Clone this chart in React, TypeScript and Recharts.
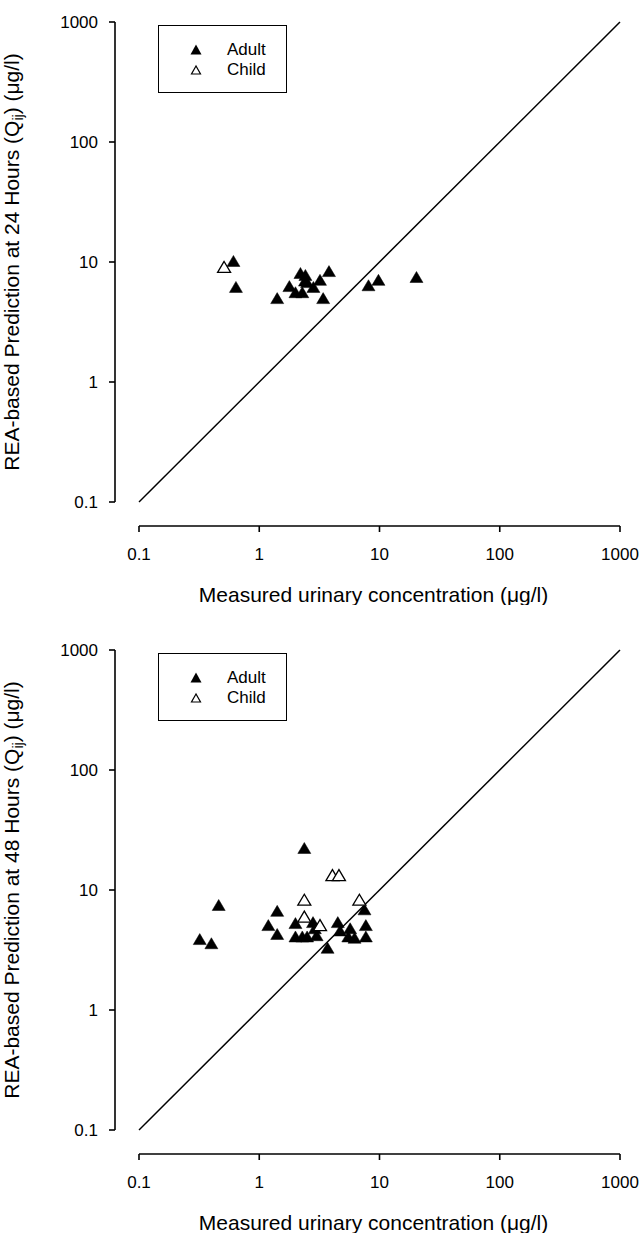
import React from 'react';
import { ScatterChart, Scatter, XAxis, YAxis, ReferenceLine, Legend, Label } from 'recharts';

const FONT = '"Liberation Sans", Arial, Helvetica, sans-serif';

// Tick values (log decades) for both axes
const xTicks = [0.1, 1, 10, 100, 1000];
const yTicks = [0.1, 1, 10, 100, 1000];
const axisDomain: [number, number] = [0.1, 1000];

// Line of identity (measured = predicted)
const identityLine = [
  { x: 0.1, y: 0.1 },
  { x: 1000, y: 1000 },
];

// Series names
const seriesNames = ['Adult', 'Child'];

// Panel 1: 24 hours  [measured, predicted]
const adult24: [number, number][] = [
  [0.61, 10.2], [0.64, 6.2], [1.41, 5.0], [1.78, 6.3], [2.2, 8.1], [2.42, 7.8],
  [2.4, 7.0], [2.0, 5.6], [2.28, 5.6], [2.5, 6.8], [2.82, 6.2], [3.2, 7.1],
  [3.4, 5.0], [3.8, 8.4], [8.1, 6.4], [9.8, 7.1], [20.3, 7.5],
];
const child24: [number, number][] = [[0.51, 9.1]];

// Panel 2: 48 hours
const adult48: [number, number][] = [
  [2.37, 22.4], [0.46, 7.5], [7.5, 6.9], [1.41, 6.7], [0.32, 3.9], [0.4, 3.6],
  [1.19, 5.1], [1.41, 4.3], [2.0, 5.3], [2.0, 4.1], [2.28, 4.1], [2.5, 4.1],
  [2.8, 5.4], [2.9, 4.8], [3.0, 4.2], [3.7, 3.3], [4.5, 5.4], [4.7, 4.6],
  [5.7, 4.8], [5.5, 4.1], [6.2, 4.0], [7.7, 5.1], [7.7, 4.1],
];
const child48: [number, number][] = [
  [4.06, 13.3], [4.6, 13.3], [2.37, 8.3], [6.8, 8.3], [2.37, 6.0], [3.2, 5.1],
];

const toPts = (arr: [number, number][]) => arr.map(([x, y]) => ({ x, y }));

const FilledTri = (props: any) => {
  const { cx, cy } = props;
  if (cx == null || cy == null) return null;
  return (
    <polygon
      points={`${cx},${cy - 5.5} ${cx - 6.5},${cy + 5.5} ${cx + 6.5},${cy + 5.5}`}
      fill="#000"
      stroke="#000"
      strokeWidth={0.5}
    />
  );
};

const OpenTri = (props: any) => {
  const { cx, cy } = props;
  if (cx == null || cy == null) return null;
  return (
    <polygon
      points={`${cx},${cy - 5.5} ${cx - 6.5},${cy + 5.5} ${cx + 6.5},${cy + 5.5}`}
      fill="#fff"
      stroke="#000"
      strokeWidth={1.3}
    />
  );
};

const LegendBox = (props: any) => {
  const payload = props.payload || [];
  return (
    <div style={{ position: 'relative', width: '100%', height: '100%', fontFamily: FONT, fontSize: 17, color: '#000' }}>
      {payload.map((e: any, i: number) => (
        <React.Fragment key={i}>
          <svg
            width={14}
            height={14}
            style={{ position: 'absolute', left: 30, top: 17 + i * 20 }}
          >
            {i === 0 ? (
              <polygon points="7,1.5 1.5,11.5 12.5,11.5" fill="#000" />
            ) : (
              <polygon points="7,3 2.5,11 11.5,11" fill="#fff" stroke="#000" strokeWidth={1.2} />
            )}
          </svg>
          <span style={{ position: 'absolute', left: 68, top: 14 + i * 20, lineHeight: '20px', whiteSpace: 'nowrap' }}>
            {e.value}
          </span>
        </React.Fragment>
      ))}
    </div>
  );
};

const XTitle = (props: any) => {
  const vb = props.viewBox || { x: 139, y: 526, width: 481 };
  return (
    <text
      x={vb.x + vb.width / 2 - 6}
      y={vb.y + 76}
      textAnchor="middle"
      fontSize={21}
      fontFamily={FONT}
      fill="#000"
    >
      Measured urinary concentration (μg/l)
    </text>
  );
};

const makeYTitle = (hours: string) => (props: any) => {
  const vb = props.viewBox || { x: 0, y: 22, width: 115, height: 480 };
  const cx = 19;
  const cy = vb.y + vb.height / 2;
  return (
    <text
      x={cx}
      y={cy}
      transform={`rotate(-90, ${cx}, ${cy})`}
      textAnchor="middle"
      fontSize={21}
      fontFamily={FONT}
      fill="#000"
    >
      <tspan>{`REA-based Prediction at ${hours} Hours (Q`}</tspan>
      <tspan dy={4} fontSize={14}>ij</tspan>
      <tspan dy={-4}>{') (μg/l)'}</tspan>
    </text>
  );
};

const tickStyle = { fill: '#000', fontSize: 17, fontFamily: FONT };
const fmt = (v: number) => String(v);

function Panel({ hours, adult, child }: { hours: string; adult: [number, number][]; child: [number, number][] }) {
  return (
    <ScatterChart width={643} height={605} margin={{ top: 22, right: 23, bottom: 0, left: 0 }}>
      <XAxis
        xAxisId="aSpacerX"
        type="number"
        dataKey="x"
        scale="log"
        domain={axisDomain}
        ticks={xTicks}
        height={24}
        axisLine={false}
        tickLine={false}
        tick={false}
        allowDataOverflow
      />
      <XAxis
        xAxisId="mainX"
        type="number"
        dataKey="x"
        scale="log"
        domain={axisDomain}
        ticks={xTicks}
        interval={0}
        height={79}
        allowDataOverflow
        axisLine={{ stroke: '#000', strokeWidth: 1.6 }}
        tickLine={{ stroke: '#000', strokeWidth: 1.6 }}
        tickSize={6}
        tickMargin={16}
        tick={tickStyle}
        tickFormatter={fmt}
      >
        <Label content={XTitle} />
      </XAxis>
      <YAxis
        yAxisId="aSpacerY"
        type="number"
        dataKey="y"
        scale="log"
        domain={axisDomain}
        ticks={yTicks}
        width={24}
        axisLine={false}
        tickLine={false}
        tick={false}
        allowDataOverflow
      />
      <YAxis
        yAxisId="mainY"
        type="number"
        dataKey="y"
        scale="log"
        domain={axisDomain}
        ticks={yTicks}
        interval={0}
        width={115}
        allowDataOverflow
        axisLine={{ stroke: '#000', strokeWidth: 1.6 }}
        tickLine={{ stroke: '#000', strokeWidth: 1.6 }}
        tickSize={6}
        tickMargin={11}
        tick={tickStyle}
        tickFormatter={fmt}
      >
        <Label content={makeYTitle(hours)} />
      </YAxis>
      <ReferenceLine
        xAxisId="mainX"
        yAxisId="mainY"
        segment={identityLine}
        stroke="#000"
        strokeWidth={1.5}
        ifOverflow="visible"
      />
      <Scatter
        name={seriesNames[0]}
        data={toPts(adult)}
        xAxisId="mainX"
        yAxisId="mainY"
        fill="#000"
        shape={FilledTri}
        isAnimationActive={false}
      />
      <Scatter
        name={seriesNames[1]}
        data={toPts(child)}
        xAxisId="mainX"
        yAxisId="mainY"
        fill="#fff"
        shape={OpenTri}
        isAnimationActive={false}
      />
      <Legend
        layout="vertical"
        align="center"
        verticalAlign="middle"
        content={LegendBox}
        wrapperStyle={{
          position: 'absolute',
          left: 158,
          top: 25,
          width: 129,
          height: 68,
          border: '1.3px solid #000',
          boxSizing: 'border-box',
          background: '#fff',
        }}
      />
    </ScatterChart>
  );
}

export default function App() {
  return (
    <div style={{ position: 'absolute', left: 0, top: 0, width: 643, height: 1233, background: '#fff', overflow: 'hidden' }}>
      <div style={{ position: 'absolute', left: 0, top: 0 }}>
        <Panel hours="24" adult={adult24} child={child24} />
      </div>
      <div style={{ position: 'absolute', left: 0, top: 628 }}>
        <Panel hours="48" adult={adult48} child={child48} />
      </div>
    </div>
  );
}
